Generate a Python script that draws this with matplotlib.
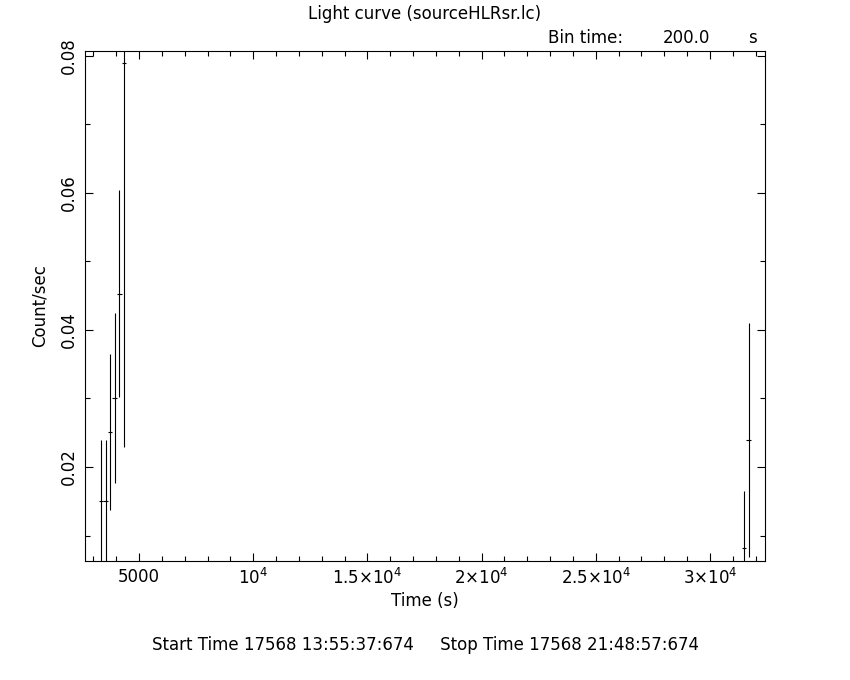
import matplotlib
matplotlib.use("Agg")
import matplotlib.pyplot as plt
from matplotlib.ticker import FixedLocator, MultipleLocator

plt.rcParams['font.family'] = ['DejaVu Sans']
plt.rcParams['mathtext.default'] = 'regular'

# Data (time in s, count rate, error)
time = [3333, 3533, 3733, 3933, 4133, 4333, 31490, 31690]
rate = [0.0150, 0.0150, 0.0251, 0.0301, 0.0453, 0.0790, 0.0082, 0.0239]
rate_err = [0.0089, 0.0089, 0.0114, 0.0124, 0.0151, 0.0561, 0.0083, 0.0171]
bin_half = [100] * len(time)

xticks = [5000, 10000, 15000, 20000, 25000, 30000]
xticklabels = ['5000', r'$10^{4}$', r'$1.5{\times}10^{4}$', r'$2{\times}10^{4}$',
               r'$2.5{\times}10^{4}$', r'$3{\times}10^{4}$']
yticks = [0.02, 0.04, 0.06, 0.08]
yticklabels = ['0.02', '0.04', '0.06', '0.08']

FS = 12

fig = plt.figure(figsize=(8.5, 6.8), dpi=100)
ax = fig.add_axes([0.1, 0.175, 0.8, 0.75])

ax.errorbar(time, rate, yerr=rate_err, xerr=bin_half, fmt='none',
            ecolor='black', elinewidth=0.8, capsize=0)

ax.set_xlim(2632, 32412)
ax.set_ylim(0.00628, 0.0807)

ax.xaxis.set_major_locator(FixedLocator(xticks))
ax.set_xticklabels(xticklabels)
ax.xaxis.set_minor_locator(MultipleLocator(1000))
ax.yaxis.set_major_locator(FixedLocator(yticks))
ax.set_yticklabels(yticklabels, rotation=90, va='center')
ax.yaxis.set_minor_locator(MultipleLocator(0.01))

ax.tick_params(which='both', direction='in', top=True, right=True,
               width=0.8, labelsize=FS)
ax.tick_params(which='major', length=6)
ax.tick_params(which='minor', length=3.5)
ax.tick_params(axis='x', pad=5)
ax.tick_params(axis='y', pad=5)
for s in ax.spines.values():
    s.set_linewidth(0.8)

ax.set_xlabel('Time (s)', fontsize=FS, labelpad=3)
ax.set_ylabel('Count/sec', fontsize=FS, labelpad=8)

fig.text(0.5, 1 - 14 / 680, 'Light curve (sourceHLRsr.lc)', ha='center', va='center', fontsize=FS)
fig.text(548 / 850, 1 - 38 / 680, 'Bin time:', ha='left', va='center', fontsize=FS)
fig.text(710 / 850, 1 - 38 / 680, '200.0', ha='right', va='center', fontsize=FS)
fig.text(748 / 850, 1 - 38 / 680, 's', ha='left', va='center', fontsize=FS)
fig.text(0.5, 1 - 645 / 680,
         'Start Time 17568 13:55:37:674     Stop Time 17568 21:48:57:674',
         ha='center', va='center', fontsize=FS)

fig.savefig('out.png', dpi=100)
